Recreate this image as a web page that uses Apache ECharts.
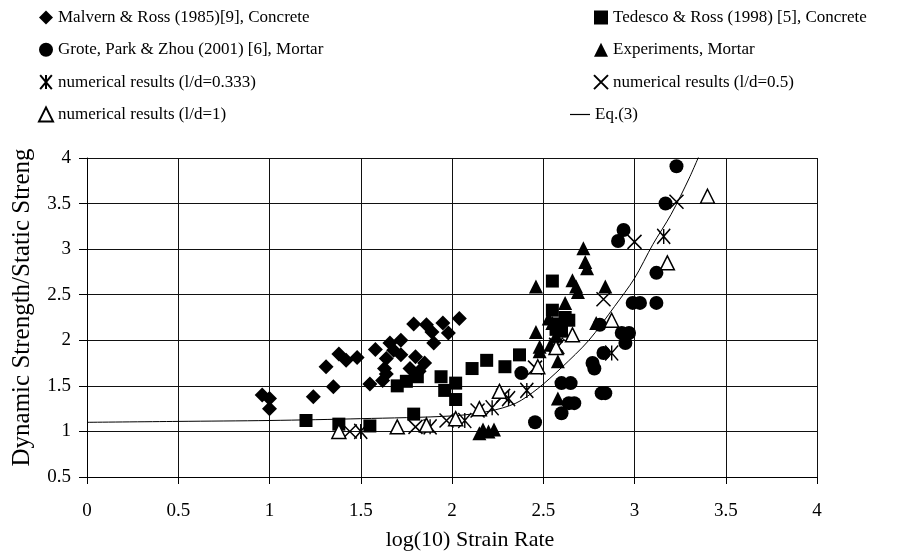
<!DOCTYPE html>
<html lang="en">
<head>
    <meta charset="UTF-8">
    <title>Dynamic Strength</title>
    <script src="https://cdn.jsdelivr.net/npm/echarts@6/dist/echarts.min.js"></script>
    <style>
        html, body { margin: 0; padding: 0; background: #fff; }
        #chart { width: 898px; height: 552px; }
    </style>
</head>
<body>
    <div id="chart"></div>
    <script>
        // 数据
        var malvern = [[0.96, 1.40], [1.00, 1.36], [1.00, 1.25], [1.24, 1.38], [1.31, 1.71], [1.35, 1.49],
            [1.38, 1.85], [1.42, 1.78], [1.48, 1.81], [1.55, 1.52], [1.58, 1.90], [1.62, 1.56], [1.63, 1.69],
            [1.64, 1.80], [1.64, 1.63], [1.66, 1.97], [1.68, 1.89], [1.72, 2.00], [1.72, 1.84], [1.77, 1.69],
            [1.80, 1.82], [1.79, 2.18], [1.82, 1.66], [1.85, 1.75], [1.86, 2.17], [1.89, 2.09], [1.90, 1.97],
            [1.95, 2.19], [1.98, 2.08], [2.04, 2.24]];
        var tedesco = [[1.20, 1.12], [1.38, 1.08], [1.55, 1.06], [1.79, 1.19], [1.70, 1.50], [1.75, 1.55],
            [1.81, 1.60], [1.94, 1.60], [1.96, 1.45], [2.02, 1.53], [2.02, 1.35], [2.11, 1.69], [2.19, 1.78],
            [2.29, 1.71], [2.37, 1.84], [2.55, 2.65], [2.55, 2.33], [2.58, 2.18], [2.62, 2.25], [2.64, 2.22],
            [2.57, 2.12], [2.60, 2.10]];
        var grote = [[2.455, 1.10], [2.38, 1.64], [2.60, 1.20], [2.64, 1.31], [2.67, 1.31], [2.60, 1.53],
            [2.65, 1.53], [2.77, 1.75], [2.78, 1.69], [2.82, 1.42], [2.84, 1.42], [2.83, 1.86], [2.81, 2.17],
            [2.93, 2.08], [2.97, 2.08], [2.95, 1.97], [2.99, 2.41], [3.03, 2.41], [3.12, 2.41], [3.12, 2.74],
            [2.91, 3.09], [2.94, 3.21], [3.17, 3.50], [3.23, 3.91]];
        var experiments = [[2.15, 0.98], [2.17, 1.02], [2.20, 1.00], [2.23, 1.02], [2.46, 2.59], [2.46, 2.09],
            [2.48, 1.93], [2.48, 1.88], [2.55, 2.19], [2.53, 2.24], [2.58, 1.77], [2.58, 1.36], [2.62, 2.41],
            [2.66, 2.66], [2.68, 2.59], [2.69, 2.53], [2.72, 3.01], [2.73, 2.86], [2.74, 2.79], [2.79, 2.19],
            [2.84, 2.59], [2.54, 1.95], [2.57, 2.05]];
        var ld0333 = [[1.50, 1.00], [1.88, 1.05], [2.07, 1.12], [2.22, 1.26], [2.31, 1.36], [2.41, 1.45],
            [2.58, 1.93], [2.875, 1.86], [3.16, 3.14]];
        var ld05 = [[1.44, 1.00], [1.80, 1.05], [1.97, 1.12], [2.14, 1.23], [2.28, 1.39], [2.455, 1.70],
            [2.57, 1.95], [2.83, 2.45], [3.00, 3.08], [3.23, 3.52]];
        var ld1 = [[1.38, 1.00], [1.70, 1.05], [1.86, 1.07], [2.02, 1.14], [2.15, 1.25], [2.26, 1.44],
            [2.47, 1.71], [2.57, 1.92], [2.66, 2.06], [2.875, 2.22], [3.18, 2.85], [3.40, 3.58]];
        // Eq.(3) 曲线
        var eqX = [0, 0.5, 1, 1.5, 2, 2.2, 2.35, 2.47, 2.6, 2.75, 2.89, 3.0, 3.1, 3.2, 3.3, 3.37];
        var eqY = [1.10, 1.11, 1.12, 1.14, 1.17, 1.22, 1.31, 1.47, 1.70, 2.00, 2.37, 2.68, 3.05, 3.38, 3.78, 4.10];

        var names = ['Malvern & Ross (1985)[9], Concrete', 'Tedesco & Ross (1998) [5], Concrete',
            'Grote, Park & Zhou (2001) [6], Mortar', 'Experiments, Mortar',
            'numerical results (l/d=0.333)', 'numerical results (l/d=0.5)',
            'numerical results (l/d=1)', 'Eq.(3)'];

        var font = 'Liberation Serif';
        var xPath = 'path://M0,0L10,10M10,0L0,10';
        var starPath = 'path://M0,0L10,12M10,0L0,12M5,0L5,12';

        var eqData = [];
        for (var i = 0; i < eqX.length; i++) {
            eqData.push([eqX[i], eqY[i]]);
        }

        var myChart = echarts.init(document.getElementById('chart'));

        var legendBase = {
            orient: 'vertical',
            top: 4,
            itemWidth: 14,
            itemHeight: 14,
            itemGap: 15.3,
            selectedMode: false,
            textStyle: { fontFamily: font, fontSize: 17, color: '#000' }
        };

        var option = {
            animation: false,
            backgroundColor: '#fff',
            legend: [
                Object.assign({}, legendBase, { left: 33, data: [names[0], names[2], names[4], names[6]] }),
                Object.assign({}, legendBase, { left: 588, data: [names[1], names[3], names[5]] }),
                Object.assign({}, legendBase, {
                    left: 565, top: 101, itemWidth: 20, itemHeight: 1.2,
                    data: [{ name: names[7], icon: 'rect' }]
                })
            ],
            grid: { left: 87, right: 81, top: 158, bottom: 75, outerBoundsMode: 'none' },
            xAxis: {
                type: 'value',
                min: 0,
                max: 4,
                interval: 0.5,
                name: 'log(10) Strain Rate',
                nameLocation: 'middle',
                nameGap: 52,
                nameTextStyle: { fontFamily: font, fontSize: 22, color: '#000', padding: [0, 0, 0, 36] },
                axisLine: { lineStyle: { color: '#000', width: 1 } },
                axisTick: { show: true, length: 7, lineStyle: { color: '#000' } },
                axisLabel: { fontFamily: font, fontSize: 19, color: '#000', margin: 25 },
                splitLine: { show: true, lineStyle: { color: '#111', width: 1 } }
            },
            yAxis: {
                type: 'value',
                min: 0.5,
                max: 4,
                interval: 0.5,
                name: 'Dynamic Strength/Static Streng',
                nameLocation: 'middle',
                nameGap: 52,
                nameTextStyle: { fontFamily: font, fontSize: 25, color: '#000', padding: [0, 0, 0, 20] },
                axisLine: { show: true, lineStyle: { color: '#000', width: 1 } },
                axisTick: { show: true, length: 8, lineStyle: { color: '#000' } },
                axisLabel: { fontFamily: font, fontSize: 19, color: '#000', margin: 16 },
                splitLine: { show: true, lineStyle: { color: '#111', width: 1 } }
            },
            series: [
                {
                    name: names[7],
                    type: 'line',
                    data: eqData,
                    smooth: 0.3,
                    showSymbol: false,
                    symbol: 'none',
                    lineStyle: { color: '#000', width: 1 },
                    itemStyle: { color: '#000' },
                    z: 1
                },
                {
                    name: names[0],
                    type: 'scatter',
                    symbol: 'diamond',
                    symbolSize: 15,
                    itemStyle: { color: '#000', opacity: 1 },
                    data: malvern
                },
                {
                    name: names[1],
                    type: 'scatter',
                    symbol: 'rect',
                    symbolSize: 13,
                    itemStyle: { color: '#000', opacity: 1 },
                    data: tedesco
                },
                {
                    name: names[2],
                    type: 'scatter',
                    symbol: 'circle',
                    symbolSize: 14,
                    itemStyle: { color: '#000', opacity: 1 },
                    data: grote
                },
                {
                    name: names[3],
                    type: 'scatter',
                    symbol: 'triangle',
                    symbolSize: 14,
                    itemStyle: { color: '#000', opacity: 1 },
                    data: experiments
                },
                {
                    name: names[4],
                    type: 'scatter',
                    symbol: starPath,
                    symbolSize: [13, 15],
                    itemStyle: { color: 'rgba(0,0,0,0)', borderColor: '#000', borderWidth: 1.5, opacity: 1 },
                    data: ld0333
                },
                {
                    name: names[5],
                    type: 'scatter',
                    symbol: xPath,
                    symbolSize: 14,
                    itemStyle: { color: 'rgba(0,0,0,0)', borderColor: '#000', borderWidth: 1.5, opacity: 1 },
                    data: ld05
                },
                {
                    name: names[6],
                    type: 'scatter',
                    symbol: 'triangle',
                    symbolSize: 14,
                    itemStyle: { color: '#fff', borderColor: '#000', borderWidth: 1.5, opacity: 1 },
                    data: ld1
                }
            ]
        };

        myChart.setOption(option);
    </script>
</body>
</html>
